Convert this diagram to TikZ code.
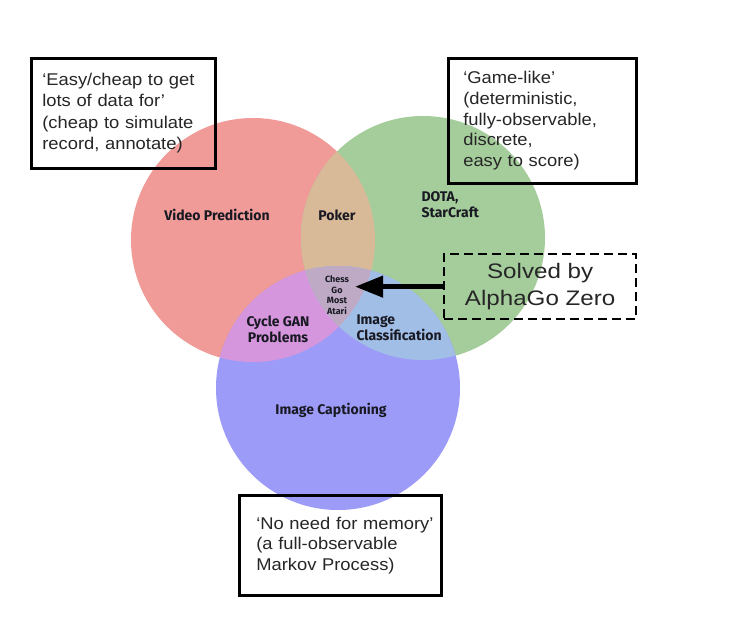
\documentclass[tikz,border=0pt]{standalone}
\usepackage{fontspec}
\setmainfont{Liberation Sans}[FakeStretch=1.08]
\newfontfamily\lblfont{Fira Sans}
\newfontfamily\solvedfont{Liberation Sans}[FakeStretch=1.15]
\usetikzlibrary{arrows.meta}
\definecolor{cred}{RGB}{240,155,152}
\definecolor{cgreen}{RGB}{165,205,155}
\definecolor{cblue}{RGB}{156,155,248}
\definecolor{crg}{RGB}{216,186,152}
\definecolor{crb}{RGB}{214,150,222}
\definecolor{cgb}{RGB}{160,190,230}
\definecolor{crgb}{RGB}{190,170,196}
\definecolor{ctext}{RGB}{25,25,35}
\begin{document}
\begin{tikzpicture}[x=1pt,y=-1pt,
  setcirc/.style={circle,minimum size=244pt,inner sep=0pt,draw=none},
  infobox/.style={draw=black,line width=2.6pt,align=left,font=\fontsize{17}{21.5}\selectfont,inner sep=0pt,text=black!85,anchor=north west},
  lbl/.style={font=\lblfont\bfseries\fontsize{14}{16}\selectfont,text=ctext,align=center},
  tiny/.style={font=\lblfont\bfseries\fontsize{9}{10.5}\selectfont,text=ctext,align=center,inner sep=0pt}]
\useasboundingbox (0,0) rectangle (740,627);
\fill[white] (0,0) rectangle (740,627);
% circles
\node[setcirc,fill=cred]   (red)   at (253,240) {};
\node[setcirc,fill=cgreen] (green) at (423,238) {};
\node[setcirc,fill=cblue]  (blue)  at (338,388) {};
% overlaps
\begin{scope}
  \clip (253,240) circle (122);
  \fill[crg] (423,238) circle (122);
  \fill[crb] (338,388) circle (122);
  \clip (423,238) circle (122);
  \fill[crgb] (338,388) circle (122);
\end{scope}
\begin{scope}
  \clip (423,238) circle (122);
  \clip (338,388) circle (122);
  \fill[cgb] (338,388) circle (122);
  \clip (253,240) circle (122);
  \fill[crgb] (253,240) circle (122);
\end{scope}
% info boxes
\node[infobox,minimum width=184pt,minimum height=110pt,text width=184pt] (b1) at (30,57)
  {\leftskip=11pt\relax `Easy/cheap to get\\lots of data for'\\(cheap to simulate\\record, annotate)\par};
\node[infobox,minimum width=188pt,minimum height=125pt,text width=188pt,font=\fontsize{17}{20.8}\selectfont] (b2) at (447,57)
  {\leftskip=15pt\relax `Game-like'\\(deterministic,\\fully-observable,\\discrete,\\easy to score)\par};
\node[infobox,minimum width=202pt,minimum height=100pt,text width=202pt,font=\fontsize{17}{20.5}\selectfont] (b3) at (238,494)
  {\leftskip=17pt\relax `No need for memory'\\(a full-observable\\Markov Process)\par};
\node[draw=black,line width=2.3pt,dash pattern=on 9pt off 5pt,minimum width=192pt,minimum height=65pt,anchor=north west,
  align=center,font=\solvedfont\fontsize{21}{27}\selectfont,text=black!85] (solved) at (443,253) {Solved by\\AlphaGo Zero};
% labels
\node[lbl] (vp) at (217,215) {Video Prediction};
\node[lbl] (pk) at (337,215) {Poker};
\node[lbl,align=left,anchor=west] (dota) at (418,205) {DOTA,\\StarCraft};
\node[tiny] (chess) at (337,295) {Chess\\Go\\Most\\Atari};
\node[lbl] (cyc) at (278,329) {Cycle GAN\\Problems};
\node[lbl,align=left,anchor=west] (ic) at (353,328) {Image\\Classification};
\node[lbl] (cap) at (331,410) {Image Captioning};
% arrow
\draw[line width=4.5pt,-{Triangle[length=28pt,width=21pt]}] (solved.west) -- ([xshift=6pt]solved.west -| chess.east);
\end{tikzpicture}
\end{document}
